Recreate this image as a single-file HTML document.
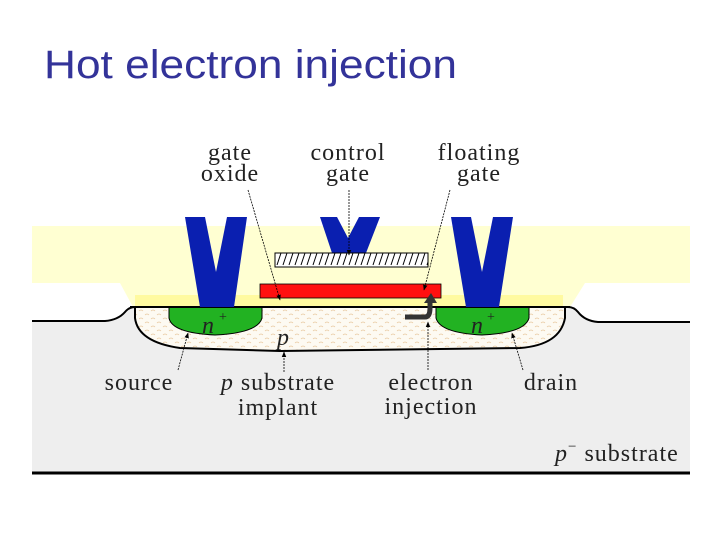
<!DOCTYPE html>
<html><head><style>
html,body{margin:0;padding:0;background:#fff;width:720px;height:540px;overflow:hidden}
svg{display:block}
</style></head><body>
<svg width="720" height="540" viewBox="0 0 720 540" xmlns="http://www.w3.org/2000/svg">
<defs>
<pattern id="wave" width="12" height="8" patternUnits="userSpaceOnUse">
<rect width="12" height="8" fill="#fdfaf2"/>
<path d="M1 3 q2 -2 4 0 M7 7 q2 -2 4 0" stroke="#e8c9a0" stroke-width="0.8" fill="none"/>
</pattern>
<pattern id="hatch" width="6" height="14" patternUnits="userSpaceOnUse">
<rect width="6" height="14" fill="#fff"/>
<path d="M1 13 L5 1" stroke="#000" stroke-width="1"/>
</pattern>
<marker id="ah" viewBox="0 0 10 10" refX="9" refY="5" markerWidth="7" markerHeight="7" orient="auto"><path d="M0 1 L10 5 L0 9 z" fill="#000"/></marker>
</defs>
<text x="44" y="78" font-family="Liberation Sans, sans-serif" font-size="40" fill="#333399" textLength="413" lengthAdjust="spacingAndGlyphs">Hot electron injection</text>
<rect x="32" y="226" width="658" height="57" fill="#ffffd2"/>
<path d="M120 283 L585 283 L570 307 L133 307 Z" fill="#ffffd2"/>
<rect x="135" y="295" width="428" height="12" fill="#fffaa0"/>
<path d="M32 321 L105 321 Q118 320 125 312 Q129 307 135 307 L568 307 Q574 307 578 312 Q585 321 598 322 L690 322 L690 472 L32 472 Z" fill="#eeeeee"/>
<path d="M32 321 L105 321 Q118 320 125 312 Q129 307 135 307 L568 307 Q574 307 578 312 Q585 321 598 322 L690 322" fill="none" stroke="#000" stroke-width="2"/>
<path d="M135 307 L565 307 L565 318 Q560 345 520 348 L280 351 L180 348 Q138 342 135 318 Z" fill="url(#wave)" stroke="#000" stroke-width="2"/>
<path d="M169 307 L262 307 L262 318 Q258 333 215 335 Q172 333 169 318 Z" fill="#22b222" stroke="#000" stroke-width="1"/>
<path d="M436 307 L529 307 L529 318 Q525 333 482 335 Q440 333 436 318 Z" fill="#22b222" stroke="#000" stroke-width="1"/>
<text x="202" y="333" font-family="Liberation Serif, serif" font-style="italic" font-size="24" fill="#222">n</text>
<text x="219" y="321" font-family="Liberation Serif, serif" font-size="14" fill="#222">+</text>
<text x="471" y="333" font-family="Liberation Serif, serif" font-style="italic" font-size="24" fill="#222">n</text>
<text x="487" y="321" font-family="Liberation Serif, serif" font-size="14" fill="#222">+</text>
<text x="277" y="345" font-family="Liberation Serif, serif" font-style="italic" font-size="24" fill="#222">p</text>
<line x1="130" y1="307" x2="570" y2="307" stroke="#000" stroke-width="2"/>
<path d="M185 217 L205 217 L216 272 L227 217 L247 217 L234 307 L200 307 Z" fill="#0a1fb0"/>
<path d="M320 217 L337 217 L348 238 L359 217 L380 217 L366 253 L332 253 Z" fill="#0a1fb0"/>
<path d="M451 217 L471 217 L482 272 L493 217 L513 217 L499 307 L466 307 Z" fill="#0a1fb0"/>
<rect x="275" y="253" width="153" height="14" fill="url(#hatch)" stroke="#000" stroke-width="1"/>
<rect x="260" y="284" width="181" height="14" fill="#ff1010" stroke="#000" stroke-width="0.8"/>
<path d="M405 317 L425 317 Q430 317 430 308 L430 302" fill="none" stroke="#333" stroke-width="5"/>
<path d="M424 303 L431 293 L437 303 Z" fill="#333"/>
<g stroke="#000" stroke-width="0.8" fill="none" stroke-dasharray="2,1">
<line x1="248" y1="190" x2="280" y2="300" marker-end="url(#ah)"/>
<line x1="349" y1="190" x2="349" y2="255" marker-end="url(#ah)"/>
<line x1="450" y1="190" x2="424" y2="290" marker-end="url(#ah)"/>
<line x1="178" y1="370" x2="188" y2="333" marker-end="url(#ah)"/>
<line x1="284" y1="372" x2="284" y2="352" marker-end="url(#ah)"/>
<line x1="428" y1="370" x2="428" y2="322" marker-end="url(#ah)"/>
<line x1="523" y1="370" x2="512" y2="333" marker-end="url(#ah)"/>
</g>
<g font-family="Liberation Serif, serif" font-size="24" letter-spacing="1" fill="#222" text-anchor="middle">
<text x="230" y="160">gate</text><text x="230" y="181">oxide</text>
<text x="348" y="160">control</text><text x="348" y="181">gate</text>
<text x="479" y="160">floating</text><text x="479" y="181">gate</text>
<text x="139" y="390">source</text>
<text x="278" y="390"><tspan font-style="italic">p</tspan> substrate</text>
<text x="278" y="415">implant</text>
<text x="431" y="390">electron</text>
<text x="431" y="414">injection</text>
<text x="551" y="390">drain</text>
</g>
<text x="555" y="461" font-family="Liberation Serif, serif" font-size="24" letter-spacing="1" fill="#222"><tspan font-style="italic">p</tspan><tspan font-size="15" dy="-10">−</tspan><tspan dy="10"> substrate</tspan></text>
<line x1="32" y1="473" x2="690" y2="473" stroke="#000" stroke-width="3"/>
</svg>
</body></html>
